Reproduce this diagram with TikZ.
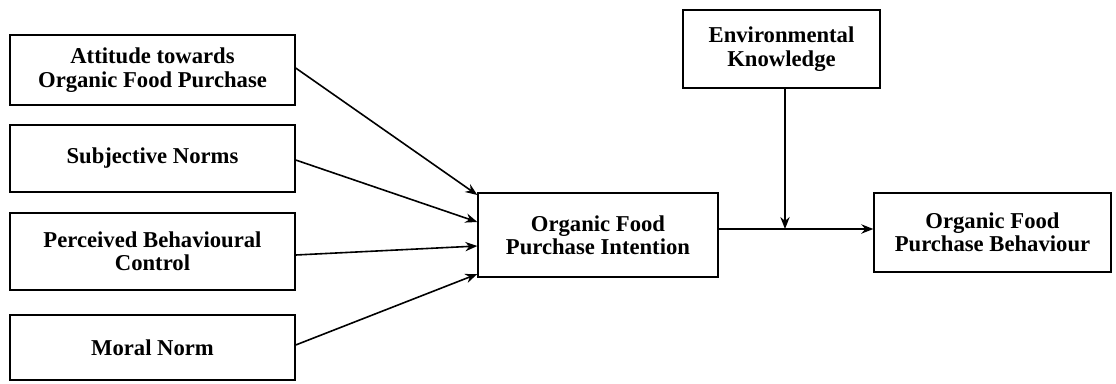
\documentclass[tikz,border=0pt]{standalone}
\usepackage{fontspec}
\setmainfont{Liberation Serif}
\usetikzlibrary{arrows.meta}
\begin{document}
\begin{tikzpicture}[x=0.75pt,y=-0.75pt,
  box/.style={draw,line width=1pt,inner sep=0pt,align=center,font=\fontsize{17}{17.5}\selectfont\bfseries},
  arr/.style={line width=1.2pt,-{Stealth[length=9pt,width=7pt]}},
  ln/.style={line width=1.5pt}]
\useasboundingbox (0,0) rectangle (1116,383);
\node[box,minimum width=213.75pt,minimum height=52.5pt] (att) at (152.5,70) {Attitude towards\\Organic Food Purchase};
\node[box,minimum width=213.75pt,minimum height=50.25pt] (sn) at (152.5,158.5) {Subjective Norms};
\node[box,minimum width=213.75pt,minimum height=57.75pt] (pbc) at (152.5,251.5) {Perceived Behavioural\\Control};
\node[box,minimum width=213.75pt,minimum height=48.75pt] (mn) at (152.5,347.5) {Moral Norm};
\node[box,minimum width=180pt,minimum height=63pt] (int) at (598,235) {Organic Food\\Purchase Intention};
\node[box,minimum width=147.75pt,minimum height=58.5pt] (env) at (781.5,49) {Environmental\\Knowledge};
\node[box,minimum width=177.75pt,minimum height=59.25pt] (beh) at (992.5,232.5) {Organic Food\\Purchase Behaviour};
\draw[arr] (att.east |- 0,68) -- (int.west |- 0,195);
\draw[arr] (sn.east |- 0,160) -- (int.west |- 0,222);
\draw[arr] (pbc.east |- 0,255) -- (int.west |- 0,246);
\draw[arr] (mn.east |- 0,345) -- (int.west |- 0,274);
\draw[arr] (int.east |- 0,229) -- (beh.west |- 0,229);
\coordinate (j) at (785,229);
\draw[arr] (env.south -| j) -- (j);
\end{tikzpicture}
\end{document}
